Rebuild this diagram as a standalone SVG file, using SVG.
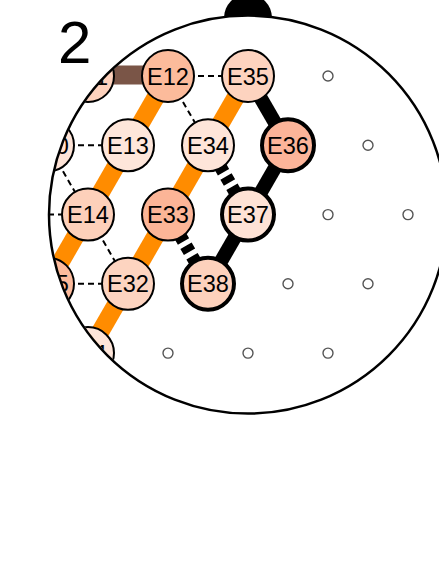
<svg xmlns="http://www.w3.org/2000/svg" width="439" height="584" viewBox="0 0 439 584">
<style>
.node circle{stroke:#000;stroke-width:2}
.node.bold circle{stroke-width:4}
.node text{font-family:"Liberation Sans",Arial,sans-serif;font-size:23.5px;text-anchor:middle;fill:#000}
.dash{stroke:#000;stroke-width:2;stroke-dasharray:6,4;fill:none}
.orange{stroke:#FF8C00;stroke-width:18;fill:none}
.brown{stroke:#7A5547;stroke-width:19;fill:none}
.black{stroke:#000;stroke-width:14;fill:none}
.blackdash{stroke:#000;stroke-width:13;stroke-dasharray:7,5;fill:none}
.empty{fill:#fff;stroke:#555;stroke-width:1.4}
</style>
<defs>
<clipPath id="head"><circle cx="248" cy="214.6" r="198"/></clipPath>
</defs>
<rect width="439" height="584" fill="#fff"/>
<text x="58" y="63" font-family="Liberation Sans,Arial,sans-serif" font-size="60">2</text>
<circle id="nose" cx="248" cy="18" r="24" fill="#000"/>
<circle id="headfill" cx="248" cy="214.6" r="199" fill="#fff"/>
<g clip-path="url(#head)">
<g id="connectors">
<line class="dash" x1="168" y1="76" x2="248" y2="76"/>
<line class="dash" x1="168" y1="76" x2="208" y2="145.3"/>
<line class="dash" x1="48" y1="145.3" x2="128" y2="145.3"/>
<line class="dash" x1="48" y1="145.3" x2="88" y2="214.6"/>
<line class="dash" x1="8" y1="214.6" x2="88" y2="214.6"/>
<line class="dash" x1="88" y1="214.6" x2="128" y2="283.8"/>
<line class="dash" x1="48" y1="283.8" x2="128" y2="283.8"/>
<line class="brown" x1="88" y1="75" x2="168" y2="75"/>
<line class="orange" x1="88" y1="76" x2="48" y2="145.3"/>
<line class="orange" x1="168" y1="76" x2="128" y2="145.3"/>
<line class="orange" x1="128" y1="145.3" x2="88" y2="214.6"/>
<line class="orange" x1="88" y1="214.6" x2="48" y2="283.8"/>
<line class="orange" x1="248" y1="76" x2="208" y2="145.3"/>
<line class="orange" x1="208" y1="145.3" x2="168" y2="214.6"/>
<line class="orange" x1="168" y1="214.6" x2="128" y2="283.8"/>
<line class="orange" x1="128" y1="283.8" x2="88" y2="353.1"/>
<line class="black" x1="248" y1="76" x2="288" y2="145.3"/>
<line class="black" x1="288" y1="145.3" x2="248" y2="214.6"/>
<line class="black" x1="248" y1="214.6" x2="208" y2="283.8"/>
<line class="blackdash" x1="208" y1="145.3" x2="248" y2="214.6"/>
<line class="blackdash" x1="168" y1="214.6" x2="208" y2="283.8"/>
</g>
<g id="E11" class="node"><circle cx="88" cy="76" r="26" fill="#FDD1BC"/><text x="88" y="84.5">E11</text></g>
<g id="E10" class="node"><circle cx="48" cy="145.3" r="26" fill="#FEE3D6"/><text x="48" y="153.8">E10</text></g>
<g id="E15" class="node"><circle cx="48" cy="283.8" r="26" fill="#FCBA9C"/><text x="48" y="292.3">E15</text></g>
<g id="E31" class="node"><circle cx="88" cy="353.1" r="26" fill="#FEE5D9"/><text x="88" y="361.6">E31</text></g>
<g id="E12" class="node"><circle cx="168" cy="76" r="26" fill="#FCBB9B"/><text x="168" y="84.5">E12</text></g>
<g id="E35" class="node"><circle cx="248" cy="76" r="26" fill="#FDD3BF"/><text x="248" y="84.5">E35</text></g>
<g id="E13" class="node"><circle cx="128" cy="145.3" r="26" fill="#FEE6DA"/><text x="128" y="153.8">E13</text></g>
<g id="E34" class="node"><circle cx="208" cy="145.3" r="26" fill="#FEE5D9"/><text x="208" y="153.8">E34</text></g>
<g id="E36" class="node bold"><circle cx="288" cy="145.3" r="26" fill="#FCB499"/><text x="288" y="153.8">E36</text></g>
<g id="E14" class="node"><circle cx="88" cy="214.6" r="26" fill="#FDD0BA"/><text x="88" y="223.1">E14</text></g>
<g id="E33" class="node"><circle cx="168" cy="214.6" r="26" fill="#FCB597"/><text x="168" y="223.1">E33</text></g>
<g id="E37" class="node bold"><circle cx="248" cy="214.6" r="26" fill="#FEE2D5"/><text x="248" y="223.1">E37</text></g>
<g id="E32" class="node"><circle cx="128" cy="283.8" r="26" fill="#FDD4C0"/><text x="128" y="292.3">E32</text></g>
<g id="E38" class="node bold"><circle cx="208" cy="283.8" r="26" fill="#FDD1BC"/><text x="208" y="292.3">E38</text></g>
<g id="empty">
<circle class="empty" cx="328" cy="76" r="5"/>
<circle class="empty" cx="368" cy="145.3" r="5"/>
<circle class="empty" cx="328" cy="214.6" r="5"/>
<circle class="empty" cx="408" cy="214.6" r="5"/>
<circle class="empty" cx="288" cy="283.8" r="5"/>
<circle class="empty" cx="368" cy="283.8" r="5"/>
<circle class="empty" cx="168" cy="353.1" r="5"/>
<circle class="empty" cx="248" cy="353.1" r="5"/>
<circle class="empty" cx="328" cy="353.1" r="5"/>
</g>
</g>
<circle id="head" cx="248" cy="214.6" r="199" fill="none" stroke="#000" stroke-width="2.5"/>
</svg>
